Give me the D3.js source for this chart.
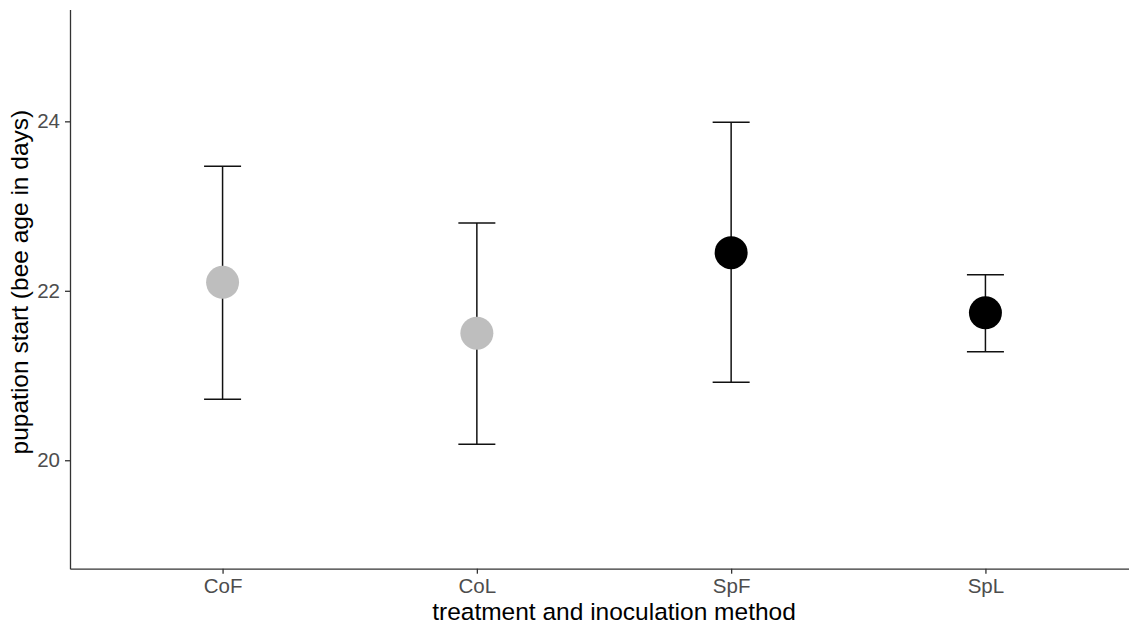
<!DOCTYPE html>
<html lang="en">
<head>
  <meta charset="UTF-8">
  <title>Pupation start by treatment</title>
  <script src="https://d3js.org/d3.v7.min.js"></script>
  <style>
    body {
      margin: 0;
      background: #fff;
    }
    svg {
      display: block;
      font-family: "Liberation Sans", Arial, sans-serif;
    }
    .axis path,
    .axis line {
      stroke: #333;
      stroke-width: 1.3;
    }
    .axis text {
      fill: #4d4d4d;
      font-size: 20.5px;
      font-family: "Liberation Sans", Arial, sans-serif;
    }
    .axis-title {
      fill: #000;
      font-size: 24.5px;
    }
    .errbar {
      stroke: #111;
      stroke-width: 1.5;
    }
  </style>
</head>
<body>
  <svg id="chart" width="1129" height="626"></svg>

  <script>
    // values
    const groups   = ["CoF", "CoL", "SpF", "SpL"];
    const means    = [22.10, 21.50, 22.45, 21.74];
    const lowers   = [20.72, 20.19, 20.92, 21.28];
    const uppers   = [23.47, 22.80, 23.99, 22.19];
    const colours  = ["#bebebe", "#bebebe", "#000000", "#000000"];
    const yTicks   = [20, 22, 24];

    const panel = { left: 70, right: 1138, top: 9.5, bottom: 568.7 };

    const svg = d3.select("#chart");

    const x = d3.scalePoint()
      .domain(groups)
      .range([panel.left, panel.right])
      .padding(0.6);

    const y = d3.scaleLinear()
      .domain([18.72, 25.32])
      .range([panel.bottom, panel.top]);

    const rows = groups.map((g, i) => ({
      group: g, mean: means[i], lo: lowers[i], hi: uppers[i], colour: colours[i]
    }));

    // axes
    svg.append("g")
      .attr("class", "axis x-axis")
      .attr("transform", `translate(0,${panel.bottom})`)
      .call(d3.axisBottom(x).tickSize(5).tickSizeOuter(0).tickPadding(4.5));

    svg.append("g")
      .attr("class", "axis y-axis")
      .attr("transform", `translate(${panel.left},0)`)
      .call(d3.axisLeft(y)
        .tickValues(yTicks)
        .tickFormat(d3.format("d"))
        .tickSize(5).tickSizeOuter(0).tickPadding(5));

    // error bars
    const capHalf = 18.5;
    const bars = svg.append("g").selectAll("g")
      .data(rows)
      .join("g");

    bars.append("line")
      .attr("class", "errbar")
      .attr("x1", d => x(d.group)).attr("x2", d => x(d.group))
      .attr("y1", d => y(d.lo)).attr("y2", d => y(d.hi));

    bars.append("line")
      .attr("class", "errbar")
      .attr("x1", d => x(d.group) - capHalf).attr("x2", d => x(d.group) + capHalf)
      .attr("y1", d => y(d.hi)).attr("y2", d => y(d.hi));

    bars.append("line")
      .attr("class", "errbar")
      .attr("x1", d => x(d.group) - capHalf).attr("x2", d => x(d.group) + capHalf)
      .attr("y1", d => y(d.lo)).attr("y2", d => y(d.lo));

    // mean points
    svg.append("g").selectAll("circle")
      .data(rows)
      .join("circle")
      .attr("cx", d => x(d.group))
      .attr("cy", d => y(d.mean))
      .attr("r", 16.5)
      .attr("fill", d => d.colour);

    // axis titles
    svg.append("text")
      .attr("class", "axis-title")
      .attr("x", 614)
      .attr("y", 619.5)
      .attr("text-anchor", "middle")
      .text("treatment and inoculation method");

    svg.append("text")
      .attr("class", "axis-title")
      .attr("transform", `translate(28,${(panel.top + panel.bottom) / 2 - 7}) rotate(-90)`)
      .attr("text-anchor", "middle")
      .text("pupation start (bee age in days)");
  </script>
</body>
</html>
